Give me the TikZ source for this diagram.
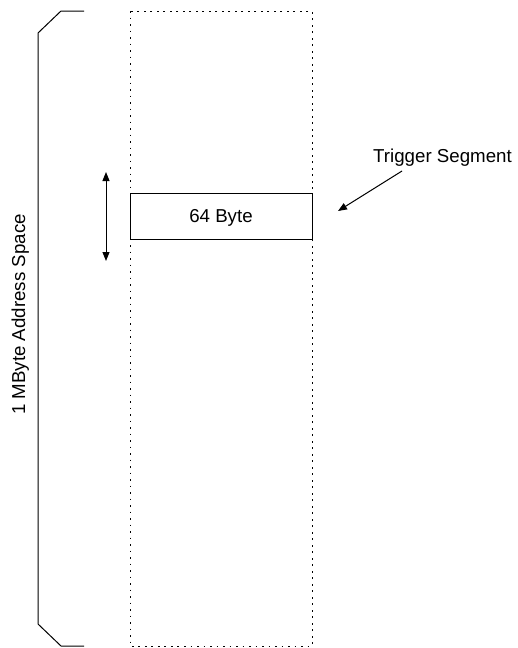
\documentclass[tikz,border=0pt]{standalone}
\usepackage{fontspec}
\setmainfont{Liberation Sans}
\usetikzlibrary{arrows.meta}

\begin{document}
\begin{tikzpicture}[x=1pt, y=-1pt, line width=1pt,
  lbl/.style = {font=\fontsize{18.7}{22}\selectfont, inner sep=0pt},
  tip/.style = {-{Triangle[length=9pt,width=7pt]}},
  twotips/.style = {{Triangle[length=9pt,width=7pt]}-{Triangle[length=9pt,width=7pt]}}]
\useasboundingbox (0,0) rectangle (517,648);
% the whole address space
\draw[dash pattern=on 1.6pt off 4.9pt] (130,11) rectangle (312,646);
% brace on the left
\draw (84,11) -- (61,11) -- (38,33) -- (38,624) -- (61,646) -- (84,646);
\node[lbl, rotate=90, anchor=base] (space) at (25,314.5) {1 MByte Address Space};
% the segment
\node[lbl, draw, minimum width=182pt, minimum height=46pt,
      text height=13.5pt, text depth=0pt] (seg) at (221,216) {64 Byte};
\coordinate (top) at (106,172);
\coordinate (bot) at (106,261);
\draw[twotips] (top) -- (bot);
\node[lbl, anchor=base] (trig) at (442.5,162) {Trigger Segment};
\coordinate (from) at (402,171);
\coordinate (to) at (338,211);
\draw[tip] (from) -- (to);
\end{tikzpicture}
\end{document}
